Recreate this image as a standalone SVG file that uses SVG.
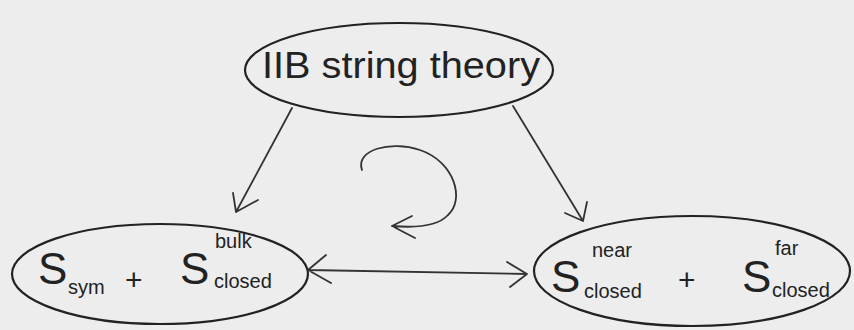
<svg xmlns="http://www.w3.org/2000/svg" width="854" height="330" viewBox="0 0 854 330">
<style>
.node{fill:none;stroke:#222;stroke-width:2.2}
.ln{fill:none;stroke:#333;stroke-width:1.8;stroke-linecap:round;stroke-linejoin:round}
text{font-family:"Liberation Sans","DejaVu Sans",sans-serif;fill:#222}
.big{font-size:44px}
.sm{font-size:20px}
.pl{font-size:30px}
</style>
<rect width="854" height="330" fill="#ededed"/>
<g id="connectors">
<path class="ln" d="M292,108 L236,212 M233,193 L236,212 L258,200"/>
<path class="ln" d="M513,106 L583,221 M587,202 L583,221 L565,213"/>
<path class="ln" d="M308,270 L527,274 M326,255 L308,270 L331,283 M507,262 L527,274 L510,287"/>
<path class="ln" d="M362,170 C355,150 390,140 420,150 C455,162 465,200 448,215 C438,226 415,228 392,226 M412,216 L392,226 L415,238"/>
</g>
<g id="top">
<ellipse class="node" cx="399" cy="70" rx="154" ry="47"/>
<text x="262" y="78" font-size="36" textLength="278" lengthAdjust="spacingAndGlyphs">IIB string theory</text>
</g>
<g id="left">
<ellipse class="node" cx="160" cy="274" rx="148" ry="50"/>
<text class="big" x="38" y="284">S</text>
<text class="sm" x="68" y="294">sym</text>
<text class="pl" x="125" y="290">+</text>
<text class="big" x="180" y="284">S</text>
<text class="sm" x="215" y="248">bulk</text>
<text class="sm" x="214" y="288">closed</text>
</g>
<g id="right">
<ellipse class="node" cx="692" cy="271" rx="158" ry="55"/>
<text class="big" x="551" y="292">S</text>
<text class="sm" x="592" y="257">near</text>
<text class="sm" x="584" y="298">closed</text>
<text class="pl" x="678" y="290">+</text>
<text class="big" x="742" y="292">S</text>
<text class="sm" x="775" y="255">far</text>
<text class="sm" x="772" y="297">closed</text>
</g>
</svg>
